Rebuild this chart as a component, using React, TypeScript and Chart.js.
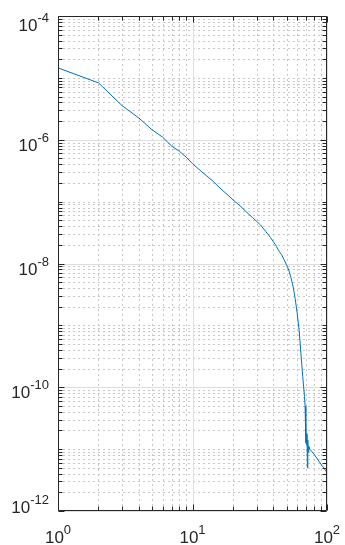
import React, { useEffect, useRef } from "react";
import { Chart, registerables } from "chart.js";

Chart.register(...registerables);

// ---- data ----
const xValues = [
  1, 2, 3, 4, 5, 6, 7, 8, 9, 10, 12, 14, 16, 18, 20, 22.5, 25, 28, 30, 32, 35,
  38, 40, 42, 44, 46, 48, 50, 52, 54, 56, 58, 60, 62, 64, 66, 68, 68.7, 69.4,
  69.6, 69.8, 70.2, 71.0, 71.5, 72.0, 72.5, 73.2, 74.4, 80, 90, 100,
];
const yValues = [
  1.45e-5, 8.3e-6, 3.55e-6, 2.24e-6, 1.45e-6, 1.1e-6, 7.9e-7, 6.5e-7, 5.2e-7,
  4.1e-7, 2.9e-7, 2.2e-7, 1.66e-7, 1.32e-7, 1.07e-7, 8.6e-8, 6.9e-8, 5.5e-8,
  4.8e-8, 4.2e-8, 3.3e-8, 2.63e-8, 2.24e-8, 1.9e-8, 1.58e-8, 1.38e-8, 1.15e-8,
  9.5e-9, 7.8e-9, 5.9e-9, 4.2e-9, 2.7e-9, 1.58e-9, 8.5e-10, 3.5e-10, 1.5e-10,
  7.1e-11, 5.0e-11, 2.5e-11, 1.26e-11, 2.5e-11, 1.2e-11, 1.78e-11, 5.0e-12,
  1.41e-11, 8.9e-12, 1.12e-11, 1.0e-11, 8.3e-12, 5.75e-12, 4.2e-12,
];

// axis ranges and tick labels
const xMin = 1;
const xMax = 100;
const yMin = 1e-12;
const yMax = 1e-4;
const xMajorTicks = [1, 10, 100];
const xTickExponents = ["0", "1", "2"];
const yMajorTicks = [1e-12, 1e-10, 1e-8, 1e-6, 1e-4];
const yTickExponents = ["-12", "-10", "-8", "-6", "-4"];

const AXIS_COLOR = "#262626";
const MAJOR_GRID = "#dedede";
const MINOR_GRID = "#c8c8c8";
const LINE_COLOR = "#0072BD";
const FONT_MAIN = '17px "Liberation Sans", Arial, Helvetica, sans-serif';
const FONT_SUP = '13px "Liberation Sans", Arial, Helvetica, sans-serif';

function minorValues(lo: number, hi: number, majors: number[]): number[] {
  const out: number[] = [];
  const kLo = Math.round(Math.log10(lo));
  const kHi = Math.round(Math.log10(hi));
  for (let k = kLo; k < kHi; k++) {
    for (let m = 1; m <= 9; m++) {
      const v = m * Math.pow(10, k);
      if (v <= lo * 1.0001 || v >= hi * 0.9999) continue;
      if (majors.some((t) => Math.abs(Math.log10(t) - Math.log10(v)) < 1e-6)) continue;
      out.push(v);
    }
  }
  return out;
}

const matlabAxes = {
  id: "matlabAxes",
  beforeDatasetsDraw(chart: any) {
    const { ctx, chartArea: a, scales } = chart;
    const xs = scales.x;
    const ys = scales.y;
    const xMinor = minorValues(xMin, xMax, xMajorTicks);
    const yMinor = minorValues(yMin, yMax, yMajorTicks);
    ctx.save();
    ctx.lineWidth = 1;
    // minor dotted grid
    ctx.strokeStyle = MINOR_GRID;
    ctx.setLineDash([2, 3]);
    for (const v of xMinor) {
      const px = Math.round(xs.getPixelForValue(v)) + 0.5;
      ctx.beginPath();
      ctx.moveTo(px, a.bottom);
      ctx.lineTo(px, a.top);
      ctx.stroke();
    }
    for (const v of yMinor) {
      const py = Math.round(ys.getPixelForValue(v)) + 0.5;
      ctx.beginPath();
      ctx.moveTo(a.left, py);
      ctx.lineTo(a.right, py);
      ctx.stroke();
    }
    // major solid grid
    ctx.setLineDash([]);
    ctx.strokeStyle = MAJOR_GRID;
    for (const v of xMajorTicks) {
      const px = Math.round(xs.getPixelForValue(v)) + 0.5;
      ctx.beginPath();
      ctx.moveTo(px, a.bottom);
      ctx.lineTo(px, a.top);
      ctx.stroke();
    }
    for (const v of yMajorTicks) {
      const py = Math.round(ys.getPixelForValue(v)) + 0.5;
      ctx.beginPath();
      ctx.moveTo(a.left, py);
      ctx.lineTo(a.right, py);
      ctx.stroke();
    }
    ctx.restore();
  },
  afterDatasetsDraw(chart: any) {
    const { ctx, chartArea: a, scales } = chart;
    const xs = scales.x;
    const ys = scales.y;
    const xMinor = minorValues(xMin, xMax, xMajorTicks);
    const yMinor = minorValues(yMin, yMax, yMajorTicks);
    const L = Math.round(a.left) + 0.5;
    const R = Math.round(a.right) - 0.5;
    const T = Math.round(a.top) + 0.5;
    const B = Math.round(a.bottom) - 0.5;
    ctx.save();
    ctx.setLineDash([]);
    ctx.strokeStyle = AXIS_COLOR;
    ctx.lineWidth = 1;
    // box
    ctx.beginPath();
    ctx.rect(L, T, R - L, B - T);
    ctx.stroke();
    // ticks (inside, all four sides)
    const major = 6;
    const minor = 4;
    ctx.beginPath();
    const xt = (v: number, len: number) => {
      const px = Math.round(xs.getPixelForValue(v)) + 0.5;
      ctx.moveTo(px, B);
      ctx.lineTo(px, B - len);
      ctx.moveTo(px, T);
      ctx.lineTo(px, T + len);
    };
    const yt = (v: number, len: number) => {
      const py = Math.round(ys.getPixelForValue(v)) + 0.5;
      ctx.moveTo(L, py);
      ctx.lineTo(L + len, py);
      ctx.moveTo(R, py);
      ctx.lineTo(R - len, py);
    };
    xMajorTicks.forEach((v) => xt(v, major));
    xMinor.forEach((v) => xt(v, minor));
    yMajorTicks.forEach((v) => yt(v, major));
    yMinor.forEach((v) => yt(v, minor));
    ctx.stroke();

    // labels: "10" with superscript exponent
    ctx.fillStyle = AXIS_COLOR;
    ctx.textBaseline = "alphabetic";
    ctx.textAlign = "left";
    const drawLabel = (x0: number, base: number, exp: string) => {
      ctx.font = FONT_MAIN;
      ctx.fillText("10", x0, base);
      const w = ctx.measureText("10").width;
      ctx.font = FONT_SUP;
      ctx.fillText(exp, x0 + w, base - 9);
    };
    const labelWidth = (exp: string) => {
      ctx.font = FONT_MAIN;
      const w1 = ctx.measureText("10").width;
      ctx.font = FONT_SUP;
      const w2 = ctx.measureText(exp).width;
      return w1 + w2;
    };
    xMajorTicks.forEach((v, i) => {
      const px = xs.getPixelForValue(v);
      const w = labelWidth(xTickExponents[i]);
      drawLabel(px - w / 2, a.bottom + 32, xTickExponents[i]);
    });
    yMajorTicks.forEach((v, i) => {
      const py = ys.getPixelForValue(v);
      const w = labelWidth(yTickExponents[i]);
      let base = py + 11;
      base = Math.max(a.top + 15, Math.min(a.bottom + 1.5, base));
      drawLabel(a.left - 9 - w, base, yTickExponents[i]);
    });
    ctx.restore();
  },
};

export default function App() {
  const canvasRef = useRef<HTMLCanvasElement | null>(null);

  useEffect(() => {
    document.body.style.margin = "0";
    const canvas = canvasRef.current;
    if (!canvas) return;
    const points = xValues.map((x, i) => ({ x, y: yValues[i] }));
    const chart = new Chart(canvas, {
      type: "scatter",
      data: {
        datasets: [
          {
            data: points,
            showLine: true,
            borderColor: LINE_COLOR,
            backgroundColor: LINE_COLOR,
            borderWidth: 1,
            pointRadius: 0,
            pointHoverRadius: 0,
            fill: false,
            tension: 0,
          },
        ],
      },
      options: {
        responsive: false,
        animation: false,
        devicePixelRatio: 1,
        layout: { padding: { left: 58, right: 18, top: 16, bottom: 34 } },
        plugins: {
          legend: { display: false },
          tooltip: { enabled: false },
        },
        scales: {
          x: { type: "logarithmic", min: xMin, max: xMax, display: false },
          y: { type: "logarithmic", min: yMin, max: yMax, display: false },
        },
      },
      plugins: [matlabAxes],
    });
    return () => chart.destroy();
  }, []);

  return (
    <div style={{ width: 345, height: 545, background: "#fff" }}>
      <canvas
        ref={canvasRef}
        width={345}
        height={545}
        style={{ display: "block", width: 345, height: 545 }}
      />
    </div>
  );
}
